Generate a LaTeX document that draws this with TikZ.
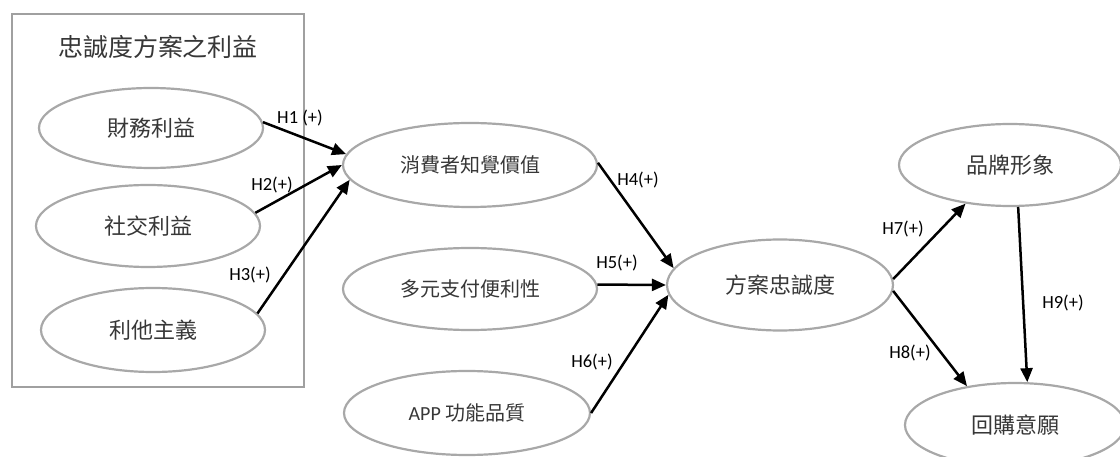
\documentclass[tikz,border=0pt]{standalone}
\usepackage{fontspec}
\setmainfont{Carlito}
\newfontfamily\cjk{Noto Sans CJK TC}
\usetikzlibrary{shapes.geometric,arrows.meta}
\definecolor{ellgray}{RGB}{168,168,168}
\definecolor{boxgray}{RGB}{160,160,160}
\definecolor{txtgray}{RGB}{55,55,55}
\begin{document}
\begin{tikzpicture}[x=1pt,y=-1pt,
  ell/.style={ellipse,draw=ellgray,line width=2.2pt,inner sep=0pt,text=txtgray,font=\cjk\fontsize{22}{26}\selectfont},
  ellm/.style={ell,font=\cjk\fontsize{20}{24}\selectfont},
  arr/.style={-{Triangle[length=14pt,width=12pt]},line width=2.5pt,black},
  hl/.style={font=\fontsize{18.5}{20}\selectfont,inner sep=0pt,text=black}]
\useasboundingbox (0,0) rectangle (1120,457);

% group box
\node (grp) [draw=boxgray,line width=2.8pt,minimum width=292pt,minimum height=373pt,inner sep=0pt] at (158,200.5) {};
\node (title) [text=txtgray,font=\cjk\fontsize{25}{30}\selectfont,inner sep=0pt] at (158,47) {忠誠度方案之利益};

% ellipses
\node (f1) [ell,minimum width=224pt,minimum height=80pt] at (151,128) {財務利益};
\node (f2) [ell,minimum width=224pt,minimum height=82pt] at (148,226) {社交利益};
\node (f3) [ell,minimum width=224pt,minimum height=84pt] at (153,330) {利他主義};
\node (pv) [ellm,minimum width=254pt,minimum height=84pt] at (470,165) {消費者知覺價值};
\node (mp) [ellm,minimum width=254pt,minimum height=82pt] at (470,289) {多元支付便利性};
\node (app) [ellm,minimum width=246pt,minimum height=84pt] at (467,413) {{\rmfamily APP} 功能品質};
\node (pl) [ell,minimum width=226pt,minimum height=91pt] at (780,285) {方案忠誠度};
\node (bi) [ell,minimum width=222pt,minimum height=82pt] at (1010,165) {品牌形象};
\node (ri) [ell,minimum width=220pt,minimum height=84pt] at (1015,425) {回購意願};

% arrows
\draw[arr] (f1.3) -- (pv.175);
\draw[arr] (f2.7) -- (pv.180);
\draw[arr] (f3.9) -- (pv.187);
\draw[arr] (pv.1) -- (pl.171);
\draw[arr] (mp.2) -- (pl.180);
\draw[arr] (app.0) -- (pl.185);
\draw[arr] (pl.3) -- (bi.221);
\draw[arr] (pl.-3) -- (ri.141);
\draw[arr] (bi.281) -- (ri.74);

% labels
\node (h1) [hl] at (300,118) {H1 (+)};
\node (h2) [hl] at (272,185) {H2(+)};
\node (h3) [hl] at (250,275) {H3(+)};
\node (h4) [hl] at (638,180) {H4(+)};
\node (h5) [hl] at (617,263) {H5(+)};
\node (h6) [hl] at (592,362) {H6(+)};
\node (h7) [hl] at (903,229) {H7(+)};
\node (h8) [hl] at (910,353) {H8(+)};
\node (h9) [hl] at (1063,303) {H9(+)};
\end{tikzpicture}
\end{document}
